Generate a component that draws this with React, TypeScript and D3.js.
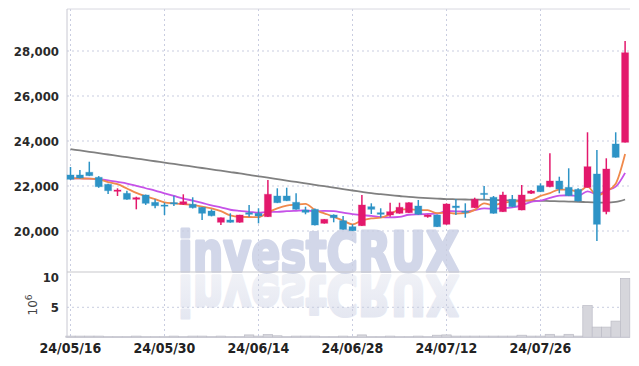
import React from "react";
import * as d3 from "d3";

const dates = [
  "2024-05-16","2024-05-17","2024-05-20","2024-05-21","2024-05-22","2024-05-23","2024-05-24","2024-05-27","2024-05-28","2024-05-29",
  "2024-05-30","2024-05-31","2024-06-03","2024-06-04","2024-06-05","2024-06-07","2024-06-10","2024-06-11","2024-06-12","2024-06-13",
  "2024-06-14","2024-06-17","2024-06-18","2024-06-19","2024-06-20","2024-06-21","2024-06-24","2024-06-25","2024-06-26","2024-06-27",
  "2024-06-28","2024-07-01","2024-07-02","2024-07-03","2024-07-04","2024-07-05","2024-07-08","2024-07-09","2024-07-10","2024-07-11",
  "2024-07-12","2024-07-15","2024-07-16","2024-07-17","2024-07-18","2024-07-19","2024-07-22","2024-07-23","2024-07-24","2024-07-25",
  "2024-07-26","2024-07-29","2024-07-30","2024-07-31","2024-08-01","2024-08-02","2024-08-05","2024-08-06","2024-08-07","2024-08-08",
];

const open = [22489,22489,22610,22387,22075,21764,21675,21409,21600,21275,21155,21260,21187,21187,21053,20889,20387,20489,20387,20813,20787,20636,21555,21555,21275,20933,20964,20342,20711,20458,20191,20236,21080,20813,20711,20787,20813,21111,20636,20711,20298,21111,20880,21036,21675,21498,20858,21409,20933,21675,22013,21970,22222,21942,21853,21942,22533,20858,23867,23942];
const high = [22844,22711,23080,22440,22100,21898,21790,21524,21620,21409,21258,21570,21631,21498,21070,20964,20600,20787,20720,21155,21009,22267,21898,21924,21675,21080,21000,20530,20740,20667,20298,21600,21231,21009,21258,21258,21280,21378,20730,20730,21230,21409,21231,21480,22000,21555,21747,21600,22044,21820,22120,23451,22413,22787,21900,24387,23600,23231,24387,28444];
const low = [22267,22330,22440,21920,21640,21555,21390,20964,21160,21009,20710,21110,21155,21000,20490,20650,20267,20370,20370,20636,20340,20620,21240,21330,20950,20742,20250,20330,20387,20060,20000,20220,20755,20591,20636,20770,20800,20720,20591,20180,20280,20711,20591,21020,21410,20770,20840,21060,20920,21650,21730,21950,21675,21550,21310,21930,19556,20742,23260,23930];
const close = [22298,22356,22458,21969,21791,21822,21409,21480,21231,21124,21110,21200,21302,21036,20787,20680,20591,20387,20711,20742,20667,21631,21258,21346,20964,20831,20267,20520,20591,20075,20013,21155,20964,20742,20858,21053,21258,20742,20711,20191,21200,21036,20850,21409,21630,20787,21600,21080,21600,21778,21747,22222,21867,21569,21333,22858,20298,22755,23275,27924];
// volume in millions
const volume = [0.2,0.2,0.2,0.2,0.1,0.1,0.1,0.2,0.1,0.1,0.1,0.2,0.1,0.2,0.2,0.1,0.2,0.1,0.1,0.4,0.2,0.45,0.25,0.1,0.2,0.2,0.2,0.1,0.1,0.2,0.1,0.4,0.1,0.1,0.2,0.1,0.1,0.2,0.1,0.35,0.4,0.2,0.2,0.2,0.2,0.2,0.2,0.2,0.35,0.2,0.2,0.5,0.2,0.5,0.2,5.3,1.7,1.7,2.7,9.8];

// moving-average values before enough closes are in view
const ma5Lead = [22340, 22335, 22330, 22290];
const ma10Lead = [22340, 22340, 22330, 22300, 22250, 22180, 22110, 22010, 21900];
// long moving average
const maLong = [23640,23580,23520,23460,23400,23340,23280,23220,23160,23100,23040,22980,22920,22860,22800,22740,22680,22620,22560,22490,22430,22370,22305,22240,22180,22115,22050,21990,21925,21860,21800,21740,21680,21635,21595,21555,21515,21485,21460,21440,21420,21410,21400,21395,21390,21380,21370,21360,21350,21345,21340,21330,21320,21310,21300,21280,21265,21260,21290,21400];

const priceTicks = [20000, 22000, 24000, 26000, 28000];
const volTicks = [5, 10];
const dateTickIdx = [0, 10, 20, 30, 40, 50];

function movingAvg(n: number, lead: number[]) {
  return close.map((_, i) => {
    if (i < n - 1) return lead[i];
    let s = 0;
    for (let k = i - n + 1; k <= i; k++) s += close[k];
    return s / n;
  });
}

const W = 639, H = 366;
const LEFT = 67, RIGHT = 630, TOP = 9, SEP = 272, BOTTOM = 337.3;
const UP = "#e3186c", DOWN = "#2d93c6";
const FONT = "'DejaVu Sans Condensed', 'Liberation Sans Narrow', sans-serif";

export default function App() {
  const x = d3.scalePoint<string>().domain(dates).range([70.5, 625.1]);
  const y = d3.scaleLinear().domain([20000, 28000]).range([231, 51]);
  const yv = d3.scaleLinear().domain([0, 10]).range([BOTTOM, 277.3]);
  const step = x.step();
  const bodyW = 7;

  const ma5 = movingAvg(5, ma5Lead);
  const ma10 = movingAvg(10, ma10Lead);
  const line = d3
    .line<number>()
    .x((_, i) => x(dates[i]) as number)
    .y((d) => y(d))
    .curve(d3.curveMonotoneX);

  const fmtDate = (s: string) => s.slice(2).replace(/-/g, "/");
  const fmtNum = d3.format(",");

  return (
    <svg width={W} height={H} style={{ position: "absolute", left: 0, top: 0, background: "#fff" }}>
      <defs>
        <clipPath id="volclip">
          <rect x={LEFT} y={SEP + 2} width={RIGHT - LEFT} height={BOTTOM - SEP - 2} />
        </clipPath>
        <linearGradient id="refl" x1="0" y1="0" x2="0" y2="1">
          <stop offset="0" stopColor="#e2e5f0" />
          <stop offset="1" stopColor="#f3f4f8" />
        </linearGradient>
      </defs>

      {/* watermark */}
      <text x={178} y={271} fontFamily="'DejaVu Sans', sans-serif" fontWeight="bold" fontSize={55}
        textLength={281} lengthAdjust="spacingAndGlyphs" fill="#d2d7e9" stroke="#d2d7e9" strokeWidth={3}
        strokeLinejoin="round">investCRUX</text>
      <g clipPath="url(#volclip)">
        <text x={178} y={271} transform="translate(0,547) scale(1,-1)" fontFamily="'DejaVu Sans', sans-serif"
          fontWeight="bold" fontSize={55} textLength={281} lengthAdjust="spacingAndGlyphs" fill="url(#refl)"
          stroke="url(#refl)" strokeWidth={3} strokeLinejoin="round">investCRUX</text>
      </g>

      {/* price grid */}
      {priceTicks.map((t) => (
        <line key={"pg" + t} x1={LEFT} x2={RIGHT} y1={y(t)} y2={y(t)} stroke="#c9cde0" strokeWidth={1} strokeDasharray="2,3" />
      ))}
      {volTicks.filter((t) => t < 10).map((t) => (
        <line key={"vg" + t} x1={LEFT} x2={RIGHT} y1={yv(t)} y2={yv(t)} stroke="#c9cde0" strokeWidth={1} strokeDasharray="2,3" />
      ))}
      {dateTickIdx.map((i) => (
        <line key={"xg" + i} x1={x(dates[i])} x2={x(dates[i])} y1={TOP} y2={BOTTOM} stroke="#c9cde0" strokeWidth={1} strokeDasharray="2,3" />
      ))}

      {/* volume bars */}
      {volume.map((v, i) => (
        <rect key={"v" + i} x={(x(dates[i]) as number) - step / 2} width={step} y={yv(v)} height={BOTTOM - yv(v)}
          fill="#d6d6dc" stroke="#bcbcc6" strokeWidth={0.7} />
      ))}

      {/* frame */}
      <line x1={LEFT} x2={RIGHT} y1={TOP} y2={TOP} stroke="#d8d8e0" />
      <line x1={LEFT} x2={LEFT} y1={TOP} y2={BOTTOM} stroke="#c8c8d2" />
      <line x1={LEFT} x2={RIGHT} y1={SEP} y2={SEP} stroke="#c8c8cc" strokeWidth={1.2} />
      <line x1={LEFT} x2={RIGHT} y1={BOTTOM} y2={BOTTOM} stroke="#c8c8d2" />

      {/* moving averages */}
      <path d={line(maLong) || ""} fill="none" stroke="#808080" strokeWidth={1.8} />
      <path d={line(ma10) || ""} fill="none" stroke="#c652e8" strokeWidth={1.8} />
      <path d={line(ma5) || ""} fill="none" stroke="#f0894b" strokeWidth={1.8} />

      {/* candles */}
      {dates.map((d, i) => {
        const cx = x(d) as number;
        const up = close[i] >= open[i];
        const c = up ? UP : DOWN;
        const top = y(Math.max(open[i], close[i]));
        const bot = y(Math.min(open[i], close[i]));
        return (
          <g key={"c" + i}>
            <line x1={cx} x2={cx} y1={y(high[i])} y2={y(low[i])} stroke={c} strokeWidth={1.5} />
            <rect x={cx - bodyW / 2} width={bodyW} y={top} height={Math.max(1.2, bot - top)} fill={c}
              stroke={c} strokeOpacity={0.35} strokeWidth={1} />
          </g>
        );
      })}

      {/* y labels */}
      {priceTicks.map((t) => (
        <text key={"pl" + t} x={59} y={y(t)} dy="0.35em" textAnchor="end" fontFamily={FONT} fontSize={13}
          fontWeight="bold" fill="#2a2a2a">{fmtNum(t)}</text>
      ))}
      {volTicks.map((t) => (
        <text key={"vl" + t} x={59} y={yv(t)} dy="0.35em" textAnchor="end" fontFamily={FONT} fontSize={13}
          fontWeight="bold" fill="#2a2a2a">{t}</text>
      ))}
      <text transform="translate(37,305) rotate(-90)" textAnchor="middle" fontFamily="'DejaVu Sans', sans-serif"
        fontSize={12} fill="#444">
        10<tspan dy="-5" fontSize={9}>6</tspan>
      </text>

      {/* x labels */}
      {dateTickIdx.map((i) => (
        <text key={"xl" + i} x={x(dates[i])} y={348} dy="0.35em" textAnchor="middle" fontFamily={FONT}
          fontSize={14} fontWeight="bold" fill="#222">{fmtDate(dates[i])}</text>
      ))}
    </svg>
  );
}
